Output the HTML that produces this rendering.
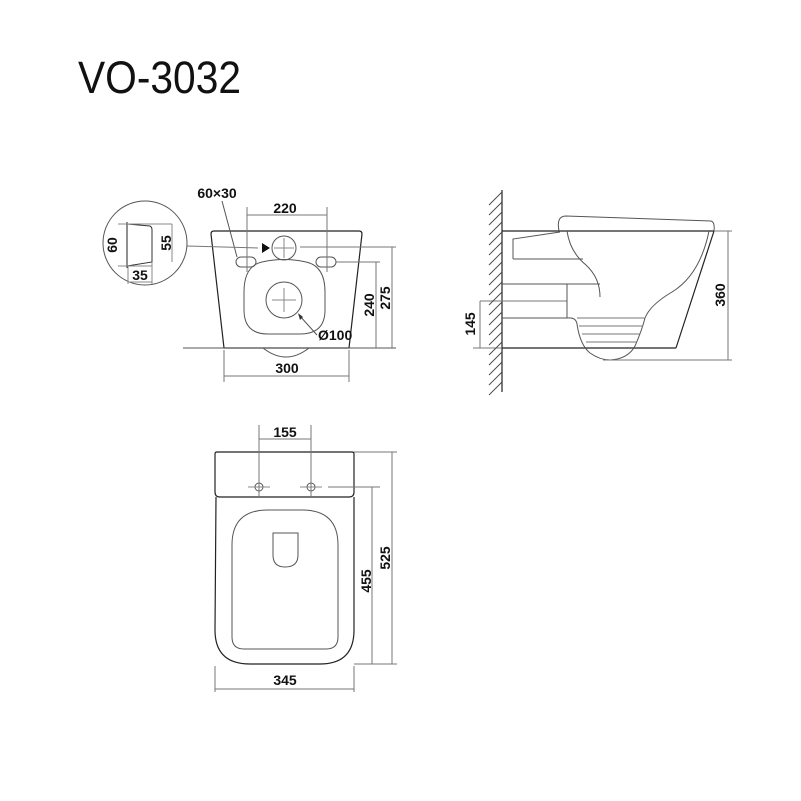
<!DOCTYPE html>
<html><head><meta charset="utf-8"><style>
html,body{margin:0;padding:0;background:#fff;}
svg{display:block;}
text{font-family:"Liberation Sans",Arial,sans-serif;fill:#111;}
.d{font-size:14px;font-weight:bold;}
</style></head><body>
<svg width="801" height="801" viewBox="0 0 801 801" xmlns="http://www.w3.org/2000/svg">
<text x="78" y="93" font-size="45" textLength="163" lengthAdjust="spacingAndGlyphs">VO-3032</text>

<g fill="none" stroke="#222" stroke-width="1">
<!-- FRONT VIEW -->
<path d="M214,231 L359,231 Q362,231 362,234 L349,348 L224,348 L211,234 Q211,231 214,231 Z" stroke-width="1.2"/>
<line x1="183" y1="348" x2="396" y2="348" stroke="#555"/>
<path d="M263,348 Q286,366 309,348" stroke="#555"/>
<circle cx="284" cy="248" r="12" stroke="#555"/>
<line x1="284" y1="238" x2="284" y2="258" stroke="#888"/>
<line x1="274" y1="248" x2="294" y2="248" stroke="#888"/>
<line x1="300" y1="247" x2="396" y2="247" stroke="#777"/>
<line x1="392" y1="247" x2="392" y2="348" stroke="#777"/>
<rect x="236" y="257" width="20" height="10" rx="5" stroke="#555"/>
<rect x="316" y="257" width="20" height="10" rx="5" stroke="#555"/>
<line x1="336" y1="262" x2="380" y2="262" stroke="#777"/>
<line x1="376" y1="262" x2="376" y2="348" stroke="#777"/>
<line x1="247" y1="207" x2="247" y2="272" stroke="#777"/>
<line x1="327" y1="207" x2="327" y2="272" stroke="#777"/>
<line x1="247" y1="215" x2="327" y2="215" stroke="#777"/>
<line x1="224" y1="350" x2="224" y2="382" stroke="#777"/>
<line x1="349" y1="350" x2="349" y2="382" stroke="#777"/>
<line x1="224" y1="376" x2="349" y2="376" stroke="#777"/>
<line x1="222" y1="201" x2="237" y2="257" stroke="#555"/>
<line x1="187" y1="246" x2="258" y2="248" stroke="#777"/>
<path d="M244,292 Q244,266 262,262 Q284,257 306,262 Q325,266 325,292 L325,310 Q325,334 300,334 L268,334 Q244,334 244,310 Z" stroke="#555"/>
<circle cx="284" cy="300" r="18" stroke="#555"/>
<line x1="284" y1="288" x2="284" y2="312" stroke="#888"/>
<line x1="272" y1="300" x2="296" y2="300" stroke="#888"/>
<line x1="299" y1="315" x2="317" y2="335" stroke="#555"/>
<!-- detail circle -->
<circle cx="145" cy="243" r="42" stroke="#555"/>
<path d="M127,224 L150,226 Q152,227 152,230 L152,262 L127,266 Z" stroke="#333"/>
<line x1="127" y1="222" x2="127" y2="268"/>
<line x1="118" y1="224" x2="172" y2="224" stroke="#888"/>
<line x1="118" y1="266" x2="152" y2="266" stroke="#888"/>
<line x1="128" y1="266" x2="128" y2="284" stroke="#888"/>
<line x1="152" y1="262" x2="152" y2="284" stroke="#888"/>
<line x1="128" y1="282" x2="152" y2="282" stroke="#888"/>
<line x1="172" y1="224" x2="172" y2="262" stroke="#888"/>

<!-- SIDE VIEW -->
<line x1="502" y1="190" x2="502" y2="392" stroke-width="1.2"/>
<line x1="502" y1="231" x2="714" y2="231" stroke-width="1.2"/>
<line x1="502" y1="348" x2="676" y2="348" stroke-width="1.2"/>
<line x1="714" y1="231" x2="676" y2="348" stroke-width="1.2"/>
<path d="M559,231 Q556,216 566,216 L711,221 Q715,222 714,231" stroke="#555"/>
<path d="M567,231 Q570,252 586,265 Q600,278 600,297" stroke="#555"/>
<path d="M513,259 L513,239 L560,232 M513,259 L583,259" stroke="#555"/>
<line x1="502" y1="284" x2="600" y2="284" stroke="#555"/>
<line x1="480" y1="301" x2="567" y2="301" stroke="#777"/>
<line x1="502" y1="318" x2="567" y2="318" stroke="#555"/>
<line x1="567" y1="284" x2="567" y2="318" stroke="#555"/>
<path d="M567,318 Q576,317 577,324 Q580,345 590,353 Q600,360 610,360 Q628,359 635,346 Q642,330 645,318" stroke="#555"/>
<path d="M709,231 Q700,275 672,292 Q650,305 645,318" stroke="#555"/>
<line x1="577" y1="318" x2="645" y2="318" stroke="#777"/>
<line x1="579" y1="326" x2="643" y2="326" stroke="#777"/>
<line x1="582" y1="334" x2="640" y2="334" stroke="#777"/>
<line x1="586" y1="342" x2="636" y2="342" stroke="#777"/>
<line x1="603" y1="360" x2="732" y2="360" stroke="#777"/>
<line x1="714" y1="231" x2="732" y2="231" stroke="#777"/>
<line x1="728" y1="231" x2="728" y2="360" stroke="#777"/>
<line x1="480" y1="301" x2="480" y2="348" stroke="#777"/>
<line x1="473" y1="348" x2="502" y2="348" stroke="#777"/>
<g stroke="#444" stroke-width="0.9">
<line x1="502" y1="192" x2="489" y2="205"/><line x1="502" y1="202" x2="489" y2="215"/>
<line x1="502" y1="212" x2="489" y2="225"/><line x1="502" y1="222" x2="489" y2="235"/>
<line x1="502" y1="232" x2="489" y2="245"/><line x1="502" y1="242" x2="489" y2="255"/>
<line x1="502" y1="252" x2="489" y2="265"/><line x1="502" y1="262" x2="489" y2="275"/>
<line x1="502" y1="272" x2="489" y2="285"/><line x1="502" y1="282" x2="489" y2="295"/>
<line x1="502" y1="292" x2="489" y2="305"/><line x1="502" y1="302" x2="489" y2="315"/>
<line x1="502" y1="312" x2="489" y2="325"/><line x1="502" y1="322" x2="489" y2="335"/>
<line x1="502" y1="332" x2="489" y2="345"/><line x1="502" y1="342" x2="489" y2="355"/>
<line x1="502" y1="352" x2="489" y2="365"/><line x1="502" y1="362" x2="489" y2="375"/>
<line x1="502" y1="372" x2="489" y2="385"/><line x1="502" y1="382" x2="489" y2="395"/>
</g>

<!-- TOP VIEW -->
<path d="M217,452 L352,452 Q354,452 354,454 L354,492 Q354,497 349,497 L220,497 Q215,497 215,492 L215,454 Q215,452 217,452 Z" stroke-width="1.2"/>
<path d="M216,497 L215,630 Q215,664 250,664 L320,664 Q354,664 354,630 L354,497" stroke-width="1.2"/>
<path d="M232,545 Q232,510 268,510 L302,510 Q338,510 338,545 L338,637 Q338,649 326,649 L244,649 Q232,649 232,637 Z" stroke="#555"/>
<path d="M273,533 L298,533 L298,555 Q298,567 285,567 Q273,567 273,555 Z" stroke="#555"/>
<circle cx="259" cy="487" r="4" stroke="#555"/>
<circle cx="311" cy="487" r="4" stroke="#555"/>
<line x1="248" y1="487" x2="270" y2="487" stroke="#888"/>
<line x1="300" y1="487" x2="322" y2="487" stroke="#888"/>
<line x1="259" y1="425" x2="259" y2="498" stroke="#777"/>
<line x1="311" y1="425" x2="311" y2="498" stroke="#777"/>
<line x1="259" y1="439" x2="311" y2="439" stroke="#777"/>
<line x1="328" y1="487" x2="380" y2="487" stroke="#777"/>
<line x1="372" y1="487" x2="372" y2="664" stroke="#777"/>
<line x1="354" y1="452" x2="397" y2="452" stroke="#777"/>
<line x1="354" y1="664" x2="397" y2="664" stroke="#777"/>
<line x1="392" y1="452" x2="392" y2="664" stroke="#777"/>
<line x1="215" y1="666" x2="215" y2="692" stroke="#777"/>
<line x1="354" y1="666" x2="354" y2="692" stroke="#777"/>
<line x1="215" y1="689" x2="354" y2="689" stroke="#777"/>
</g>
<polygon points="262,243 270,248 262,253" fill="#111"/>
<polygon points="298,313 300,320 303,317" fill="#333"/>

<text class="d" x="217" y="198" text-anchor="middle">60×30</text>
<text class="d" x="285" y="213" text-anchor="middle">220</text>
<text class="d" x="287" y="373" text-anchor="middle">300</text>
<text class="d" x="318" y="340">Ø100</text>
<text class="d" x="140" y="280" text-anchor="middle">35</text>
<text class="d" transform="translate(117,245) rotate(-90)" text-anchor="middle">60</text>
<text class="d" transform="translate(171,243) rotate(-90)" text-anchor="middle">55</text>
<text class="d" transform="translate(374,305) rotate(-90)" text-anchor="middle">240</text>
<text class="d" transform="translate(390,298) rotate(-90)" text-anchor="middle">275</text>
<text class="d" transform="translate(725,295) rotate(-90)" text-anchor="middle">360</text>
<text class="d" transform="translate(475,324) rotate(-90)" text-anchor="middle">145</text>
<text class="d" x="285" y="437" text-anchor="middle">155</text>
<text class="d" transform="translate(371,581) rotate(-90)" text-anchor="middle">455</text>
<text class="d" transform="translate(390,558) rotate(-90)" text-anchor="middle">525</text>
<text class="d" x="285" y="685" text-anchor="middle">345</text>
</svg>
</body></html>
